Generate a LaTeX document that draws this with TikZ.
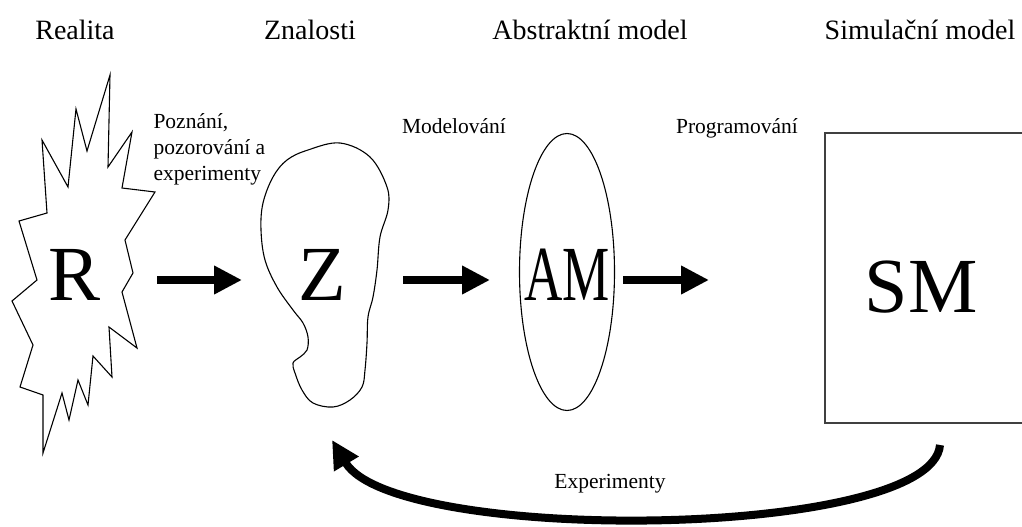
\documentclass[tikz,border=0pt]{standalone}
\usepackage{fontspec}
\setmainfont{Liberation Serif}
\usetikzlibrary{arrows.meta,shapes.geometric}

\begin{document}
\begin{tikzpicture}[
	x=1pt, y=-1pt,
	title/.style={font=\fontsize{28}{32}\selectfont, anchor=base},
	small label/.style={font=\fontsize{21.5}{26}\selectfont},
	big letter/.style={font=\fontsize{78}{80}\selectfont, inner sep=0pt},
	outline/.style={line width=1.1pt, line join=miter},
	fat arrow/.style={line width=8pt, -{Triangle[length=28pt,width=27pt]}}
	]
	\useasboundingbox (0,0) rectangle (1022,527);

	% titles
	\node[title] (t-real) at (75,40) {Realita};
	\node[title] (t-zn) at (310,40) {Znalosti};
	\node[title] (t-am) at (590,40) {Abstraktní model};
	\node[title] (t-sm) at (920,40) {Simulační model};

	% realita
	\draw[outline] (110,75) -- (87,151) -- (76,109) -- (68,187) -- (42,140) -- (47,213)
		-- (19,221) -- (37,280) -- (12,301) -- (33,345) -- (20,387) -- (43,395)
		-- (43,453) -- (62,393) -- (69,420) -- (78,380) -- (88,405) -- (93,356)
		-- (112,377) -- (109,327) -- (137,348) -- (122,292) -- (133,273) -- (125,240)
		-- (155,192) -- (122,188) -- (132,132) -- (108,167) -- cycle;
	\node[big letter] (r) at (75,275) {R};

	% znalosti
	\draw[outline] plot[smooth cycle, tension=0.6] coordinates {
		(308,150) (340,143) (370,157) (387,187) (388,210) (380,237) (377,270)
		(373,297) (368,317) (367,343) (365,370) (362,387) (350,400) (333,407)
		(313,403) (302,390) (295,373) (293,363) (300,357) (307,350) (308,337)
		(303,323) (293,310) (277,287) (265,260) (261,230) (263,203) (273,177)
		(287,160)};
	\node[big letter] (z) at (322,275) {Z};

	% abstraktni model
	\node[outline, draw, ellipse, minimum width=95pt, minimum height=277pt] (am-shape) at (567,272) {};
	\node[big letter] (am) at (567,275) {\scalebox{0.68}[1]{AM}};

	% simulacni model
	\draw[outline, black!75] (1022,133) -- (825,133) -- (825,423) -- (1022,423);
	\node[big letter] (sm) at (921,287) {SM};

	% labels
	\node[small label, align=left, anchor=north west] (l-pozn) at (150,110)
		{Poznání,\\pozorování a\\experimenty};
	\node[small label, anchor=base] (l-mod) at (454,133) {Modelování};
	\node[small label, anchor=base] (l-prog) at (737,133) {Programování};
	\node[small label] (l-exp) at (610,484) {Experimenty};

	% arrows
	\coordinate (r-out) at (157,280);
	\coordinate (z-in) at (242,280);
	\coordinate (z-out) at (403,280);
	\coordinate (am-in) at (490,280);
	\coordinate (am-out) at (623,280);
	\coordinate (sm-in) at (709,280);
	\coordinate (sm-foot) at (940,445);
	\coordinate (z-foot) at (332,440);
	\draw[fat arrow] (r-out) -- (z-in);
	\draw[fat arrow] (z-out) -- (am-in);
	\draw[fat arrow] (am-out) -- (sm-in);
	\draw[fat arrow] (sm-foot) .. controls (932,540) and (395,545) .. (z-foot);
\end{tikzpicture}
\end{document}
